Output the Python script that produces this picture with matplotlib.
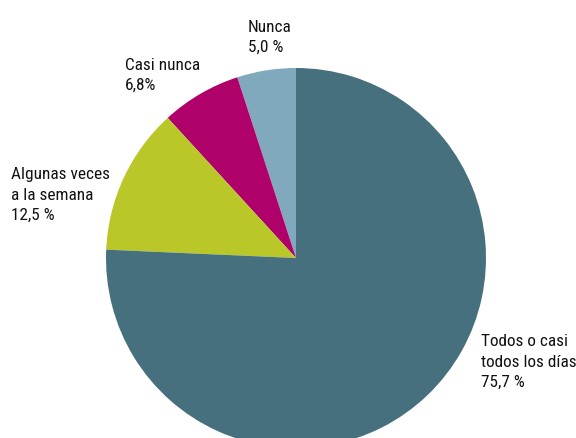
import matplotlib
matplotlib.use("Agg")
import matplotlib.pyplot as plt

labels = ["Nunca\n5,0 %", "Casi nunca\n6,8%", "Algunas veces\na la semana\n12,5 %", "Todos o casi\ntodos los días\n75,7 %"]
values = [5.0, 6.8, 12.5, 75.7]
colors = ["#80a9bd", "#b0006a", "#b9c828", "#47707f"]

W, H = 576, 438
fig = plt.figure(figsize=(W / 100, H / 100), dpi=100)
ax = fig.add_axes([0, 0, 1, 1])

cx, cy, r = 296, H - 258, 190
ax.pie(values, colors=colors, startangle=90, counterclock=True,
       center=(cx, cy), radius=r, frame=True,
       wedgeprops=dict(linewidth=0))
ax.set_xlim(0, W)
ax.set_ylim(0, H)
ax.set_aspect("equal")
ax.axis("off")

font = ["Roboto Condensed", "DejaVu Sans"]
# (x, baseline of last line) in image pixels
label_pos = [(248, 52), (125, 90), (11, 220), (481, 387)]
for lab, (x, y) in zip(labels, label_pos):
    ax.text(x, H - y, lab, ha="left", va="baseline", fontsize=12.4,
            family=font, color="#111111", linespacing=1.45)

fig.savefig("out.png", dpi=100)
